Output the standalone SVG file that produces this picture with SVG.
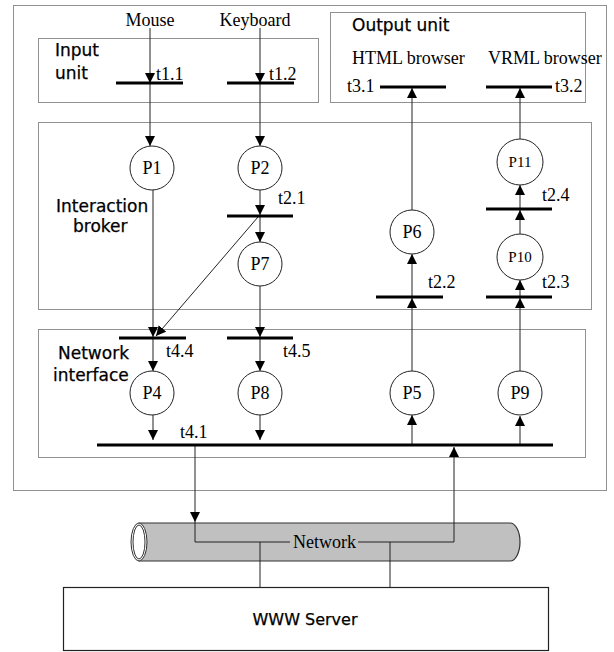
<svg xmlns="http://www.w3.org/2000/svg" width="614" height="652" viewBox="0 0 614 652">
<defs>
<marker id="ah" markerUnits="userSpaceOnUse" markerWidth="10" markerHeight="10" refX="10" refY="5" orient="auto">
<path d="M0,0 L10,5 L0,10 z" fill="#000"/>
</marker>
<style>
.box{fill:none;stroke:#222;stroke-width:1;stroke-dasharray:1,1}
.bar{stroke:#000;stroke-width:3;fill:none}
.ln{stroke:#222;stroke-width:1;fill:none}
.ar{stroke:#222;stroke-width:1;fill:none;marker-end:url(#ah)}
.pl{fill:#fff;stroke:#222;stroke-width:1}
.sf{font-family:"Liberation Serif","Times New Roman",serif;font-size:18px;fill:#000}
.sm{font-family:"Liberation Serif","Times New Roman",serif;font-size:15px;fill:#000}
.ss{font-family:"DejaVu Sans",Verdana,sans-serif;font-size:17px;fill:#000;stroke:#000;stroke-width:0.25}
.mid{text-anchor:middle}
</style>
</defs>
<rect width="614" height="652" fill="#fff"/>

<g id="frames">
<rect class="box" x="13.5" y="5.5" width="593" height="485"/>
<rect class="box" x="38.5" y="38.5" width="280" height="64"/>
<rect class="box" x="330.5" y="12.5" width="255" height="90"/>
<rect class="box" x="38.5" y="122.5" width="553" height="187"/>
<rect class="box" x="38.5" y="329.5" width="547" height="128"/>
<text class="ss" x="55" y="56">Input</text>
<text class="ss" x="55" y="79">unit</text>
<text class="ss" x="352" y="31">Output unit</text>
<text class="ss" x="56" y="212">Interaction</text>
<text class="ss" x="73" y="232">broker</text>
<text class="ss" x="58" y="359">Network</text>
<text class="ss" x="53" y="381">interface</text>
<text class="sf mid" x="150" y="26">Mouse</text>
<text class="sf mid" x="255" y="26">Keyboard</text>
<text class="sf" x="352" y="64">HTML browser</text>
<text class="sf" x="488" y="64">VRML browser</text>
</g>

<g id="network">
<path d="M139 523 H510 A10 19 0 0 1 510 561 H139 Z" fill="#c0c0c0" stroke="#333" stroke-width="1.2"/>
<ellipse cx="139" cy="542" rx="8" ry="19" fill="#fff" stroke="#333" stroke-width="1"/>
<ellipse cx="139" cy="542" rx="6" ry="17" fill="none" stroke="#333" stroke-width="1"/>
<text class="sf" x="293" y="548">Network</text>
</g>

<g id="server">
<rect x="63.5" y="587.5" width="485" height="63" fill="#fff" stroke="#222" stroke-width="1.2"/>
<text class="ss mid" x="305" y="625" style="font-size:16px">WWW Server</text>
</g>

<g id="connectors">
<path class="ar" d="M150 28 V83"/>
<path class="ar" d="M150 83 V146"/>
<path class="ar" d="M153 190 V337"/>
<path class="ar" d="M153 338 V371"/>
<path class="ar" d="M153 415 V440"/>
<path class="ar" d="M260 28 V83"/>
<path class="ar" d="M260 83 V146"/>
<path class="ar" d="M260 190 V215"/>
<path class="ar" d="M260 216 V242"/>
<path class="ar" d="M260 286 V337"/>
<path class="ar" d="M260 338 V371"/>
<path class="ar" d="M260 415 V440"/>
<path class="ar" d="M258 217 L156 336"/>
<path class="ar" d="M412 445 V415"/>
<path class="ar" d="M412 371 V298"/>
<path class="ar" d="M412 297 V254"/>
<path class="ar" d="M412 210 V88"/>
<path class="ar" d="M520 445 V416"/>
<path class="ar" d="M520 371 V298"/>
<path class="ar" d="M520 297 V280"/>
<path class="ar" d="M520 234 V210"/>
<path class="ar" d="M520 209 V185"/>
<path class="ar" d="M520 139 V88"/>
<path class="ar" d="M195 445 V522"/>
<path class="ln" d="M195 522 V542 H290"/>
<path class="ln" d="M358 542 H454"/>
<path class="ar" d="M454 542 V447"/>
<path class="ln" d="M260 542 V587"/>
<path class="ln" d="M390 542 V587"/>
</g>

<g id="transitions">
<line class="bar" x1="116" y1="83" x2="183" y2="83"/>
<line class="bar" x1="227" y1="83" x2="294" y2="83"/>
<line class="bar" x1="227" y1="216" x2="293" y2="216"/>
<line class="bar" x1="119" y1="338" x2="186" y2="338"/>
<line class="bar" x1="227" y1="338" x2="293" y2="338"/>
<line class="bar" x1="97" y1="445" x2="553" y2="445"/>
<line class="bar" x1="376" y1="297" x2="443" y2="297"/>
<line class="bar" x1="486" y1="297" x2="552" y2="297"/>
<line class="bar" x1="486" y1="209" x2="552" y2="209"/>
<line class="bar" x1="380" y1="87" x2="446" y2="87"/>
<line class="bar" x1="486" y1="87" x2="552" y2="87"/>
<text class="sf" x="156" y="80">t1.1</text>
<text class="sf" x="269" y="80">t1.2</text>
<text class="sf" x="278" y="204">t2.1</text>
<text class="sf" x="166" y="357">t4.4</text>
<text class="sf" x="283" y="357">t4.5</text>
<text class="sf" x="180" y="438">t4.1</text>
<text class="sf" x="428" y="288">t2.2</text>
<text class="sf" x="542" y="288">t2.3</text>
<text class="sf" x="542" y="201">t2.4</text>
<text class="sf" x="347" y="92">t3.1</text>
<text class="sf" x="555" y="92">t3.2</text>
</g>

<g id="P1"><circle class="pl" cx="152" cy="168" r="22"/><text class="sf mid" x="152" y="174">P1</text></g>
<g id="P2"><circle class="pl" cx="260" cy="168" r="22"/><text class="sf mid" x="260" y="174">P2</text></g>
<g id="P7"><circle class="pl" cx="260" cy="264" r="22"/><text class="sf mid" x="260" y="270">P7</text></g>
<g id="P4"><circle class="pl" cx="152" cy="393" r="22"/><text class="sf mid" x="152" y="399">P4</text></g>
<g id="P8"><circle class="pl" cx="260" cy="393" r="22"/><text class="sf mid" x="260" y="399">P8</text></g>
<g id="P5"><circle class="pl" cx="412" cy="393" r="22"/><text class="sf mid" x="412" y="399">P5</text></g>
<g id="P9"><circle class="pl" cx="520" cy="393" r="22"/><text class="sf mid" x="520" y="399">P9</text></g>
<g id="P6"><circle class="pl" cx="412" cy="232" r="22"/><text class="sf mid" x="412" y="238">P6</text></g>
<g id="P10"><circle class="pl" cx="520" cy="257" r="23"/><text class="sm mid" x="520" y="262">P10</text></g>
<g id="P11"><circle class="pl" cx="520" cy="162" r="23"/><text class="sm mid" x="520" y="167">P11</text></g>
</svg>
